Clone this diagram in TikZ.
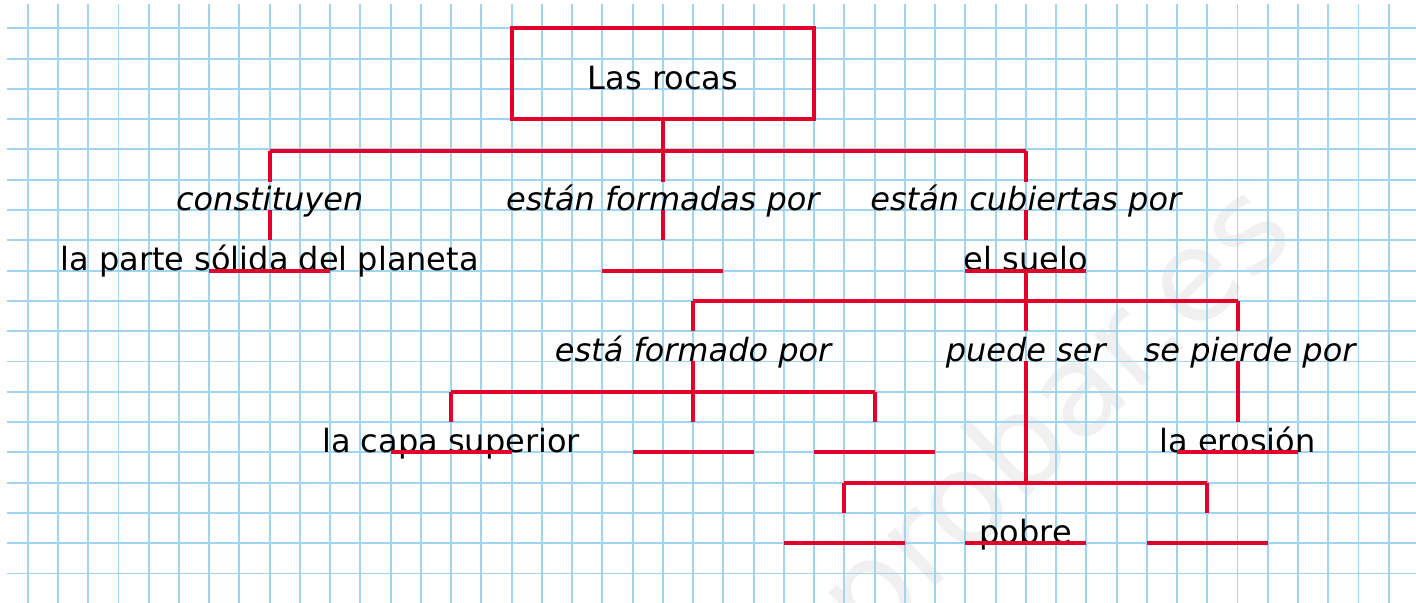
\documentclass[tikz,border=0pt]{standalone}
\usepackage{fontspec}
\setmainfont{DejaVu Sans}
\definecolor{rojo}{RGB}{227,0,43}
\definecolor{azulpapel}{RGB}{160,212,243}

\begin{document}
\begin{tikzpicture}[x=22.69pt,y=-22.72pt,
    rama/.style={draw=rojo,line width=3pt},
    etiq/.style={anchor=base,inner sep=0pt,font=\fontsize{24}{28}\selectfont},
    verbo/.style={etiq,font=\fontsize{24}{28}\selectfont\itshape}]
    \useasboundingbox (-0.916,-0.934) rectangle (45.9,18.97);

    % papel cuadriculado
    \node[rotate=44,text=black!6,font=\fontsize{96}{96}\selectfont] (marca) at (34.1,12.9) {probar.es};
    \foreach \x in {0,...,45}
        {\draw[azulpapel,line width=1.4pt] (\x,-0.8) -- (\x,18.97);}
    \foreach \y in {0,...,18}
        {\draw[azulpapel,line width=1.4pt] (-0.7,\y) -- (45.9,\y);}

    \node[draw=rojo,line width=3pt,minimum width=227pt,minimum height=68.2pt,
          text height=23pt,text depth=0pt,
          font=\fontsize{24}{28}\selectfont] (rocas) at (21,1.5) {Las rocas};

    \node[verbo] (constituyen) at (8,6) {constituyen};
    \node[verbo] (formadas) at (21,6) {están formadas por};
    \node[verbo] (cubiertas) at (33,6) {están cubiertas por};
    \node[etiq] (parte) at (8,8) {la parte sólida del planeta};
    \node[etiq] (suelo) at (33,8) {el suelo};
    \node[verbo] (formado) at (22,11) {está formado por};
    \node[verbo] (puede) at (33,11) {puede ser};
    \node[verbo] (pierde) at (40.4,11) {se pierde por};
    \node[etiq] (capa) at (14,14) {la capa superior};
    \node[etiq] (erosion) at (40,14) {la erosión};
    \node[etiq] (pobre) at (33,17) {pobre};
    \coordinate (hueco2) at (28,14);
    \coordinate (hueco4) at (27,17);
    \coordinate (hueco5) at (39,17);

    % lineas para rellenar
    \foreach \x/\y in {8/8,21/8,33/8,14/14,22/14,28/14,40/14,27/17,33/17,39/17}
        {\draw[rama] (\x-2,\y) -- (\x+2,\y);}

    % ramas
    \draw[rama] (rocas.south) -- ++(0,1) coordinate (r1);
    \draw[rama] (constituyen |- r1) -- (cubiertas |- r1);
    \foreach \n in {constituyen,formadas,cubiertas}
        {\draw[rama] (\n |- r1) -- ++(0,1);
         \draw[rama] (\n.base) -- ++(0,1);}

    \draw[rama] (suelo.base) -- ++(0,1) coordinate (s1);
    \draw[rama] (formado |- s1) -- (erosion |- s1);
    \foreach \n in {formado,suelo,erosion}
        {\draw[rama] (\n |- s1) -- ++(0,1);}

    \draw[rama] (formado.base) -- ++(0,2);
    \draw[rama] (capa |- 0,12) -- (hueco2 |- 0,12);
    \foreach \n in {capa,hueco2}
        {\draw[rama] (\n |- 0,12) -- ++(0,1);}

    \draw[rama] (erosion |- pierde.base) -- ++(0,2);

    \draw[rama] (puede.base) -- ++(0,4) coordinate (p1);
    \draw[rama] (hueco4 |- p1) -- (hueco5 |- p1);
    \foreach \n in {hueco4,hueco5}
        {\draw[rama] (\n |- p1) -- ++(0,1);}
\end{tikzpicture}
\end{document}
